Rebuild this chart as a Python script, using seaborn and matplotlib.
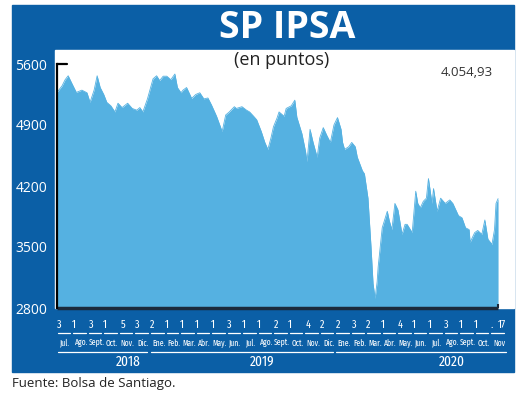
import matplotlib
matplotlib.use("Agg")
import matplotlib.pyplot as plt
import matplotlib.transforms as mtrans
from matplotlib.patches import Rectangle
import pandas as pd
import seaborn as sns

# ===================== DATA =====================
dates = [
    "2018-07-03", "2018-07-13", "2018-07-19", "2018-07-25", "2018-08-01", "2018-08-10",
    "2018-08-21", "2018-08-31", "2018-09-06", "2018-09-14", "2018-09-20", "2018-09-26",
    "2018-10-03", "2018-10-09", "2018-10-17", "2018-10-25", "2018-10-31", "2018-11-08",
    "2018-11-19", "2018-11-28", "2018-12-07", "2018-12-13", "2018-12-19", "2018-12-28",
    "2019-01-08", "2019-01-15", "2019-01-21", "2019-01-28", "2019-02-04", "2019-02-12",
    "2019-02-20", "2019-02-25", "2019-03-04", "2019-03-08", "2019-03-15", "2019-03-25",
    "2019-04-02", "2019-04-10", "2019-04-18", "2019-04-26", "2019-05-03", "2019-05-13",
    "2019-05-24", "2019-05-31", "2019-06-07", "2019-06-17", "2019-06-21", "2019-07-02",
    "2019-07-11", "2019-07-17", "2019-07-25", "2019-07-31", "2019-08-09", "2019-08-16",
    "2019-08-22", "2019-08-28", "2019-09-02", "2019-09-09", "2019-09-13", "2019-09-23",
    "2019-09-27", "2019-10-07", "2019-10-14", "2019-10-18", "2019-10-28", "2019-11-04",
    "2019-11-07", "2019-11-13", "2019-11-19", "2019-11-27", "2019-12-02", "2019-12-09",
    "2019-12-16", "2019-12-23", "2019-12-30",
    "2020-01-06", "2020-01-13", "2020-01-16", "2020-01-20", "2020-01-28", "2020-02-03",
    "2020-02-10", "2020-02-14", "2020-02-24", "2020-02-28", "2020-03-06", "2020-03-12",
    "2020-03-16", "2020-03-20", "2020-03-24", "2020-03-26", "2020-03-31", "2020-04-03",
    "2020-04-13", "2020-04-17", "2020-04-22", "2020-04-28", "2020-05-04", "2020-05-12",
    "2020-05-18", "2020-05-22", "2020-06-01", "2020-06-08", "2020-06-12", "2020-06-17",
    "2020-06-23", "2020-06-29", "2020-07-03", "2020-07-10", "2020-07-13", "2020-07-20",
    "2020-07-27", "2020-08-05", "2020-08-14", "2020-08-20", "2020-08-31", "2020-09-07",
    "2020-09-14", "2020-09-21", "2020-09-23", "2020-10-02", "2020-10-08", "2020-10-16",
    "2020-10-22", "2020-10-28", "2020-11-05", "2020-11-10", "2020-11-13", "2020-11-17",
]
ipsa = [
    5274, 5350, 5420, 5465, 5380, 5274, 5300, 5270, 5160, 5300, 5465, 5330,
    5250, 5160, 5120, 5050, 5150, 5100, 5150, 5090, 5070, 5100, 5050, 5200,
    5430, 5465, 5410, 5460, 5460, 5420, 5485, 5330, 5270, 5300, 5330, 5205,
    5250, 5270, 5200, 5210, 5130, 5000, 4825, 5015, 5050, 5110, 5090, 5110,
    5070, 5050, 5000, 4960, 4825, 4700, 4620, 4750, 4880, 4980, 5050, 5000,
    5090, 5120, 5185, 4990, 4800, 4600, 4480, 4850, 4700, 4530, 4750, 4870,
    4780, 4700, 4900,
    4985, 4850, 4700, 4620, 4650, 4700, 4650, 4530, 4375, 4340, 4060, 3500,
    3080, 2910, 3100, 3270, 3550, 3720, 3910, 3800, 3700, 4000, 3925, 3645,
    3760, 3760, 3665, 4140, 4000, 3950, 4025, 4060, 4285, 4000, 4170, 3910,
    4060, 4000, 4040, 4000, 3860, 3835, 3720, 3700, 3555, 3665, 3690, 3645,
    3810, 3590, 3530, 3700, 4000, 4054.93,
]
last_value = "4.054,93"

yticks = [2800, 3500, 4200, 4900, 5600]

# first trading day of each month (label shown above the month name)
day_dates = [
    "2018-07-03", "2018-08-01", "2018-09-03", "2018-10-01", "2018-11-05", "2018-12-03",
    "2019-01-02", "2019-02-01", "2019-03-01", "2019-04-01", "2019-05-02", "2019-06-03",
    "2019-07-01", "2019-08-01", "2019-09-02", "2019-10-01", "2019-11-04", "2019-12-02",
    "2020-01-02", "2020-02-03", "2020-03-02", "2020-04-01", "2020-05-04", "2020-06-01",
    "2020-07-01", "2020-08-03", "2020-09-01", "2020-10-01", "2020-11-02", "2020-11-17",
]
day_labels = ["3", "1", "3", "1", "5", "3", "2", "1", "1", "1", "1", "3", "1", "1", "2",
              "1", "4", "2", "2", "3", "2", "1", "4", "1", "1", "3", "1", "1", ".", "17"]
month_labels = ["Jul.", "Ago.", "Sept.", "Oct.", "Nov.", "Dic.",
                "Ene.", "Feb.", "Mar.", "Abr.", "May.", "Jun.", "Jul.", "Ago.", "Sept.", "Oct.", "Nov.", "Dic.",
                "Ene.", "Feb.", "Mar.", "Abr.", "May.", "Jun.", "Jul.", "Ago.", "Sept.", "Oct.", "Nov"]
years = ["2018", "2019", "2020"]

# ===================== STYLE =====================
BLUE = "#0b5fa6"
FILL = "#55b1e1"
SHADOW = "#1b2a3c"
NARROW = ["Fira Sans Extra Condensed", "PT Sans Narrow", "DejaVu Sans"]

sns.set_style("white")
plt.rcParams["font.family"] = ["Open Sans", "DejaVu Sans"]

W, H = 520, 397
def fx(px):
    return px / W
def fy(py):
    return 1 - py / H

fig = plt.figure(figsize=(W / 100, H / 100), dpi=100)

# blue frame + white plot panel (behind the axes)
fig.patches.append(Rectangle((fx(12), fy(372)), fx(514) - fx(12), fy(5) - fy(372),
                             transform=fig.transFigure, color=BLUE, zorder=-2))
fig.patches.append(Rectangle((fx(55), fy(308)), fx(514) - fx(55), fy(50) - fy(308),
                             transform=fig.transFigure, color="white", zorder=-1))

ax = fig.add_axes([fx(57), fy(308), fx(514) - fx(57), fy(64) - fy(308)])
ax.patch.set_alpha(0)

df = pd.DataFrame({"fecha": pd.to_datetime(dates), "ipsa": ipsa})
ax.fill_between(df["fecha"], df["ipsa"], 2800, color=FILL, lw=0)
sns.lineplot(data=df, x="fecha", y="ipsa", color=FILL, lw=0.6, ax=ax)

start = df["fecha"].iloc[0]
ax.set_xlim(start, start + pd.Timedelta(days=(514 - 57) * 1.968))
ax.set_ylim(2800, 5600)
ax.set_yticks(yticks)
ax.set_yticklabels([str(v) for v in yticks])
ax.tick_params(axis="y", length=0, pad=7, labelcolor="white", labelsize=10)
ax.set_xticks([])
ax.set_xlabel("")
ax.set_ylabel("")
for s in ["top", "right", "bottom"]:
    ax.spines[s].set_visible(False)
ax.spines["left"].set_color("black")
ax.spines["left"].set_linewidth(1.6)
ax.axhline(5600, xmin=0, xmax=0.022, color="black", lw=1.6, clip_on=False)

# drop shadow under the area
ax.hlines(2800, start, df["fecha"].iloc[-1], color=SHADOW, lw=2.5, clip_on=False)
ax.vlines(df["fecha"].iloc[-1], 2800, 2850, color=SHADOW, lw=1.5, clip_on=False)

# ===================== X AXIS LABELS =====================
tr = mtrans.blended_transform_factory(ax.transData, ax.transAxes)
month_starts = pd.date_range("2018-07-01", periods=len(month_labels) + 1, freq="MS")

for d, lab in zip(pd.to_datetime(day_dates), day_labels):
    ax.text(d, -0.068, lab, transform=tr, ha="left", va="center", color="white",
            fontsize=8, family=NARROW, clip_on=False)

for i, lab in enumerate(month_labels):
    m0, m1 = month_starts[i], month_starts[i + 1]
    ax.plot([m0 + pd.Timedelta(days=3), m1 - pd.Timedelta(days=3)], [-0.1025, -0.1025],
            transform=tr, color="white", lw=0.9, clip_on=False)
    mid = m0 + (m1 - m0) / 2 + pd.Timedelta(days=3)
    ax.text(mid, -0.143, lab, transform=tr, ha="center", va="center", color="white",
            fontsize=6, family=NARROW, clip_on=False)

year_spans = [("2018-07-01", "2018-12-31"), ("2019-01-01", "2019-12-31"), ("2020-01-01", "2020-12-05")]
year_label_at = ["2018-11-20", "2019-08-10", "2020-08-18"]
for (y0, y1), at, lab in zip(year_spans, year_label_at, years):
    ax.plot([pd.Timestamp(y0) + pd.Timedelta(days=3), pd.Timestamp(y1) - pd.Timedelta(days=3)],
            [-0.18, -0.18], transform=tr, color="white", lw=0.9, clip_on=False)
    ax.text(pd.Timestamp(at), -0.222, lab, transform=tr, ha="center", va="center",
            color="white", fontsize=10.5, family=NARROW, clip_on=False)

# ===================== TEXTS =====================
fig.text(fx(287), fy(28), "SP IPSA", ha="center", va="center", color="white",
         fontsize=27, fontweight="bold")
fig.text(fx(282), fy(60), "(en puntos)", ha="center", va="center", color="#222222",
         fontsize=13)
fig.text(fx(467), fy(72), last_value, ha="center", va="center", color="#333333",
         fontsize=9.5)
fig.text(fx(12), fy(384), "Fuente: Bolsa de Santiago.", ha="left", va="center",
         color="#222222", fontsize=9.5)

fig.savefig("out.png", dpi=100, facecolor="white")
